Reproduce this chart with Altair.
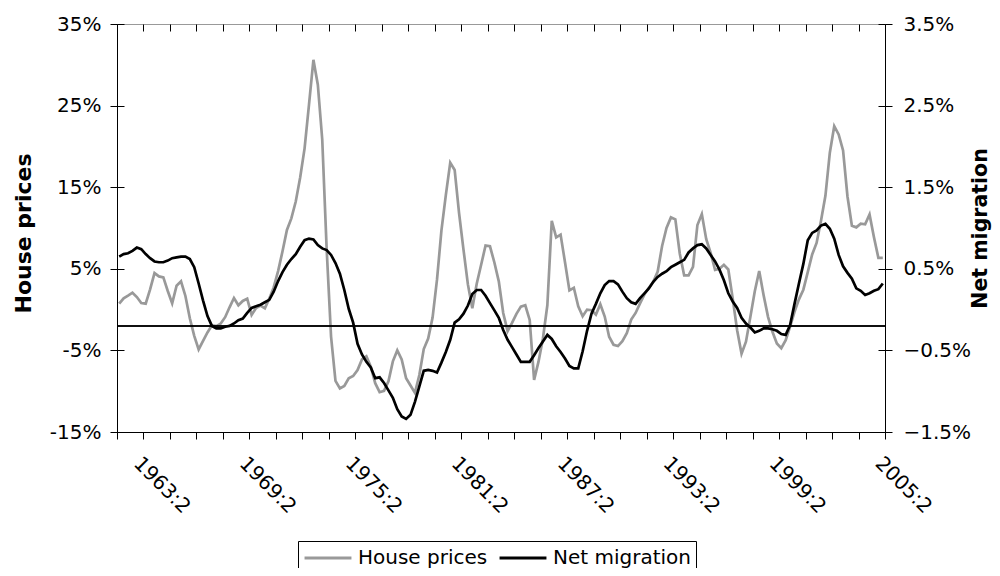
import altair as alt
import pandas as pd

# Quarterly series, 1962:1 .. 2005:2
house_prices = [
    0.73, 1.38, 1.71, 2.07, 1.54, 0.81, 0.73, 2.48, 4.47, 4.07,
    3.94, 2.28, 0.77, 2.93, 3.46, 1.67, -1.06, -3.21, -4.88, -3.82,
    -2.80, -1.91, -2.03, -1.71, -0.93, 0.28, 1.42, 0.53, 1.06, 1.34,
    -0.65, 0.20, 0.49, 0.16, 1.34, 2.72, 4.72, 7.15, 9.76, 11.18,
    13.25, 16.18, 19.76, 25.12, 30.61, 27.56, 20.85, 7.44, -3.33, -8.74,
    -9.67, -9.35, -8.41, -8.13, -7.40, -6.10, -5.73, -6.99, -9.02, -10.12,
    -9.96, -8.78, -6.34, -5.00, -6.10, -8.41, -9.31, -10.20, -8.01, -4.84,
    -3.54, -0.98, 3.66, 9.67, 14.02, 18.01, 17.11, 11.83, 7.36, 3.09,
    0.16, 3.17, 5.49, 7.85, 7.76, 5.77, 3.46, -0.41, -2.64, -1.63,
    -0.53, 0.37, 0.53, -1.26, -8.62, -6.38, -3.54, 0.53, 10.89, 8.86,
    9.19, 5.81, 2.36, 2.68, 0.41, -0.81, 0.00, -0.08, -0.61, 0.65,
    -0.85, -3.33, -4.31, -4.47, -3.86, -2.89, -1.22, -0.41, 0.77, 1.87,
    2.68, 3.41, 4.67, 7.80, 10.00, 11.30, 11.06, 6.87, 4.19, 4.19,
    5.24, 10.37, 11.71, 8.62, 6.95, 4.88, 5.00, 5.49, 4.92, 1.34,
    -2.52, -5.41, -3.94, -0.89, 2.24, 4.72, 1.75, -0.89, -2.72, -4.15,
    -4.72, -3.74, -2.07, -0.28, 1.26, 2.44, 4.59, 6.75, 8.17, 10.89,
    13.94, 19.23, 22.48, 21.46, 19.51, 13.86, 10.28, 10.08, 10.53, 10.45,
    11.67, 8.86, 6.34, 6.34,
]

net_migration = [
    0.65, 0.68, 0.69, 0.72, 0.76, 0.74, 0.68, 0.63, 0.59, 0.58,
    0.58, 0.60, 0.63, 0.64, 0.65, 0.65, 0.62, 0.52, 0.32, 0.11,
    -0.08, -0.20, -0.23, -0.23, -0.21, -0.20, -0.17, -0.13, -0.11, -0.04,
    0.02, 0.04, 0.06, 0.09, 0.12, 0.22, 0.35, 0.46, 0.55, 0.62,
    0.68, 0.77, 0.85, 0.87, 0.86, 0.79, 0.75, 0.73, 0.67, 0.57,
    0.44, 0.24, 0.01, -0.16, -0.42, -0.55, -0.64, -0.71, -0.84, -0.83,
    -0.90, -0.99, -1.08, -1.22, -1.31, -1.34, -1.29, -1.13, -0.94, -0.75,
    -0.74, -0.75, -0.77, -0.65, -0.52, -0.37, -0.16, -0.12, -0.05, 0.05,
    0.19, 0.24, 0.24, 0.17, 0.08, -0.01, -0.10, -0.25, -0.37, -0.46,
    -0.55, -0.64, -0.64, -0.64, -0.56, -0.47, -0.39, -0.31, -0.36, -0.45,
    -0.52, -0.60, -0.69, -0.72, -0.72, -0.51, -0.26, -0.05, 0.07, 0.20,
    0.30, 0.35, 0.35, 0.31, 0.22, 0.14, 0.09, 0.07, 0.14, 0.20,
    0.26, 0.34, 0.40, 0.44, 0.47, 0.52, 0.55, 0.58, 0.61, 0.70,
    0.75, 0.79, 0.80, 0.75, 0.67, 0.59, 0.49, 0.36, 0.20, 0.10,
    0.02, -0.10, -0.17, -0.22, -0.28, -0.26, -0.23, -0.23, -0.24, -0.26,
    -0.30, -0.31, -0.19, 0.07, 0.32, 0.56, 0.85, 0.94, 0.97, 1.03,
    1.05, 0.99, 0.87, 0.67, 0.53, 0.45, 0.38, 0.26, 0.23, 0.18,
    0.20, 0.23, 0.25, 0.32,
]

n = len(house_prices)
quarters = [f"{1962 + i // 4}:{i % 4 + 1}" for i in range(n)]
t = [1962 + i / 4 for i in range(n)]

series_names = ["House prices", "Net migration"]
x_tick_values = [1961.875 + 1.5 * j for j in range(30)]
left_ticks = [-15, -5, 5, 15, 25, 35]
right_ticks = [-1.5, -0.5, 0.5, 1.5, 2.5, 3.5]
reference_level = [-2.0]  # horizontal line, house-price units

df = pd.DataFrame({
    "t": t, "quarter": quarters, "house": house_prices, "migr": net_migration,
    "s_house": series_names[0], "s_migr": series_names[1],
})
rule_df = pd.DataFrame({"h": reference_level, "m": [v / 10 for v in reference_level]})

FONT = "DejaVu Sans"
xscale = alt.Scale(domain=[1961.875, 2005.375], nice=False, zero=False)
yl = alt.Scale(domain=[-15, 35], nice=False, zero=False)
yr = alt.Scale(domain=[-1.5, 3.5], nice=False, zero=False)

label_expr = "(datum.value - 1963.375) % 6 == 0 ? floor(datum.value) + ':2' : ''"

x_axis_main = alt.Axis(
    values=x_tick_values, labelExpr=label_expr, title=None, tickSize=7,
    labelAngle=45, labelAlign="left", labelBaseline="top", labelPadding=14,
    labelOverlap=False, labelFlush=False, labelBound=False, grid=False,
)
x_axis_inner = alt.Axis(
    values=x_tick_values, labels=False, domain=False, tickSize=7, offset=-7,
    title=None, grid=False,
)

left_axis = alt.Axis(
    orient="left", values=left_ticks, labelExpr="datum.value + '%'",
    title="House prices", titleAngle=270, titleX=-94, titleY=209,
    titleBaseline="middle", titleAlign="center", titleFontSize=22,
    tickSize=7, labelPadding=9, grid=False,
)
right_axis = alt.Axis(
    orient="right", values=right_ticks, labelExpr="format(datum.value, '.1f') + '%'",
    title="Net migration", titleAngle=270, titleX=95, titleY=204,
    titleBaseline="middle", titleAlign="center", titleFontSize=20.5,
    tickSize=7, labelPadding=11, grid=False,
)
left_inner = alt.Axis(orient="left", values=left_ticks, labels=False, domain=False,
                      tickSize=7, offset=-7, title=None, grid=False)
right_inner = alt.Axis(orient="right", values=right_ticks, labels=False, domain=False,
                       tickSize=7, offset=-7, title=None, grid=False)

color_scale = alt.Scale(domain=series_names, range=["#999999", "#000000"])
legend = alt.Legend(
    title=None, orient="none", legendX=181, legendY=517, direction="horizontal",
    symbolType="stroke", symbolSize=2200, symbolStrokeWidth=3, clipHeight=24,
    labelFontSize=20, labelFont=FONT, labelColor="black", labelOffset=5,
    columnPadding=10, strokeColor="black", fillColor="white", padding=5,
)

house_line = alt.Chart(df).mark_line(strokeWidth=2.7).encode(
    x=alt.X("t:Q", scale=xscale, axis=x_axis_main),
    y=alt.Y("house:Q", scale=yl, axis=left_axis),
    color=alt.Color("s_house:N", scale=color_scale, legend=legend),
)
migr_line = alt.Chart(df).mark_line(strokeWidth=2.7).encode(
    x=alt.X("t:Q", scale=xscale, axis=x_axis_inner),
    y=alt.Y("migr:Q", scale=yr, axis=right_axis),
    color=alt.Color("s_migr:N", scale=color_scale, legend=legend),
)
rule_left = alt.Chart(rule_df).mark_rule(color="black", strokeWidth=1.5).encode(
    y=alt.Y("h:Q", scale=yl, axis=left_inner),
)
rule_right = alt.Chart(rule_df).mark_rule(color="black", strokeWidth=1.5).encode(
    y=alt.Y("m:Q", scale=yr, axis=right_inner),
)

chart = (
    alt.layer(house_line, migr_line, rule_left, rule_right)
    .resolve_scale(y="independent")
    .resolve_axis(x="independent", y="independent")
    .properties(
        width=768, height=408,
        autosize=alt.AutoSizeParams(type="none"),
        padding={"left": 109, "top": 16, "right": 107, "bottom": 136},
    )
    .configure_view(stroke="#999999", strokeWidth=1)
    .configure_axis(
        labelFont=FONT, labelFontSize=20, labelColor="black",
        titleFont=FONT, titleFontSize=20, titleFontWeight="bold", titleColor="black",
        domainColor="black", domainWidth=1, tickColor="black", tickWidth=1,
    )
)

chart.save("out.html", embed_options={"renderer": "svg", "actions": False})
